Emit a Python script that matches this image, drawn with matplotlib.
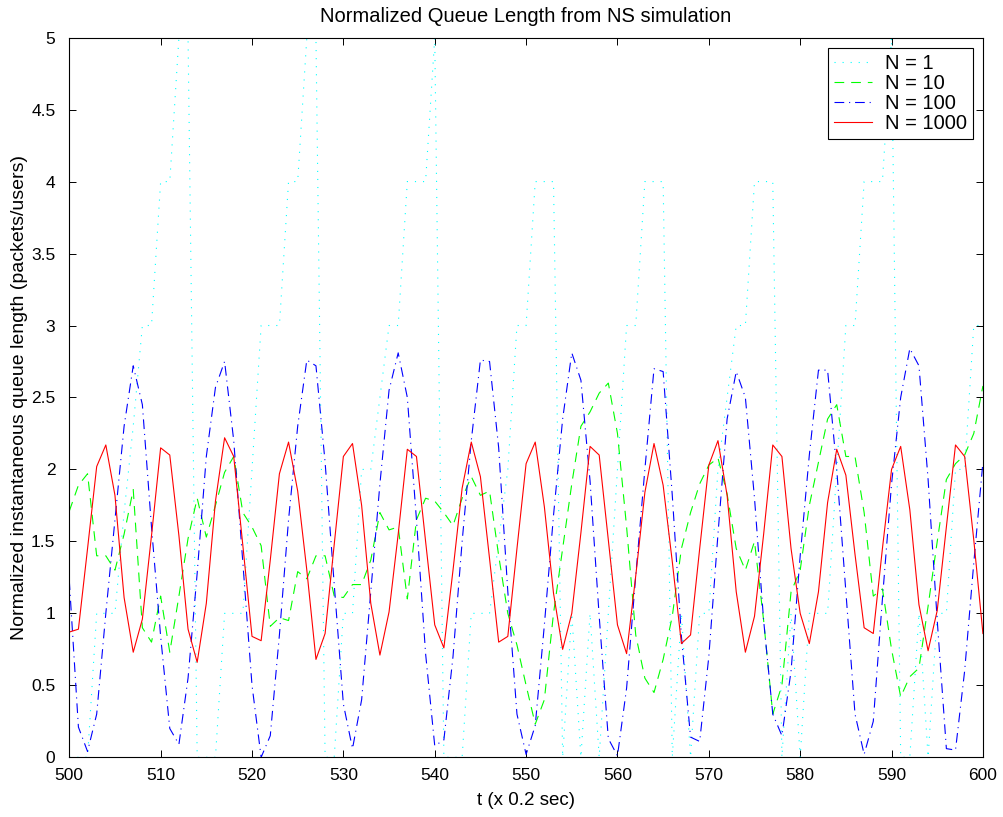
import numpy as np
import matplotlib
matplotlib.use("Agg")
import matplotlib.pyplot as plt
from matplotlib.ticker import FuncFormatter

plt.rcParams['font.family'] = ['Liberation Sans', 'DejaVu Sans']
plt.rcParams['lines.scale_dashes'] = False

t = np.arange(500, 601)

n1 = [0, 0, 0, 1, 1, 1, 1.7, 2.3, 3, 3,
      4, 4, 5, 5, 0, 0, 0, 1, 1, 1,
      2, 3, 3, 3, 4, 4, 5, 5, 0, 0,
      1, 1, 2, 2, 2.5, 3, 3, 4, 4, 4,
      5, 0, 0, 0, 1, 1, 1, 1.5, 2, 3,
      3, 4, 4, 4, 0, 1, 0, 1, 0, 1,
      2, 3, 3, 4, 4, 4, 0, 1, 0, 1,
      1, 2, 2.5, 3, 3, 4, 4, 4, 0, 1,
      0, 1, 1, 1, 2, 3, 3, 4, 4, 4,
      5, 0, 0, 1, 0, 1, 1, 2, 2, 3,
      3]

n10 = [1.71, 1.89, 1.97, 1.40, 1.40, 1.30, 1.55, 1.86, 0.90, 0.80,
       1.12, 0.73, 1.12, 1.52, 1.80, 1.53, 1.75, 1.98, 2.09, 1.70,
       1.60, 1.47, 0.91, 0.97, 0.95, 1.29, 1.24, 1.40, 1.40, 1.12,
       1.11, 1.20, 1.20, 1.37, 1.70, 1.58, 1.60, 1.10, 1.65, 1.80,
       1.78, 1.70, 1.61, 1.80, 1.95, 1.82, 1.85, 1.40, 1.00, 0.78,
       0.50, 0.23, 0.40, 1.00, 1.45, 1.90, 2.30, 2.40, 2.53, 2.60,
       2.25, 1.60, 0.85, 0.55, 0.45, 0.68, 0.98, 1.45, 1.70, 1.90,
       2.03, 2.08, 1.83, 1.45, 1.30, 1.50, 0.95, 0.30, 0.50, 1.15,
       1.30, 1.75, 2.05, 2.35, 2.45, 2.09, 2.09, 1.70, 1.12, 1.17,
       0.75, 0.42, 0.56, 0.62, 1.05, 1.50, 1.93, 2.04, 2.10, 2.25,
       2.58]

n100 = [1.23, 0.21, 0.04, 0.30, 1.00, 1.65, 2.30, 2.72, 2.45, 1.60,
        0.84, 0.20, 0.09, 0.55, 1.28, 2.09, 2.57, 2.75, 2.20, 1.35,
        0.50, 0.00, 0.15, 0.85, 1.65, 2.30, 2.76, 2.72, 2.05, 1.20,
        0.37, 0.06, 0.40, 1.15, 1.90, 2.55, 2.81, 2.50, 1.65, 0.72,
        0.08, 0.12, 0.70, 1.50, 2.20, 2.76, 2.75, 2.15, 1.15, 0.30,
        0.02, 0.22, 0.92, 1.68, 2.35, 2.81, 2.62, 1.92, 0.98, 0.13,
        0.01, 0.48, 1.26, 2.00, 2.70, 2.68, 1.82, 0.84, 0.14, 0.11,
        0.70, 1.55, 2.35, 2.68, 2.50, 1.80, 0.95, 0.30, 0.15, 0.60,
        1.40, 2.10, 2.69, 2.69, 2.00, 1.15, 0.30, 0.02, 0.25, 1.10,
        1.90, 2.50, 2.84, 2.72, 1.93, 0.95, 0.06, 0.05, 0.60, 1.35,
        2.05]

n1000 = [0.87, 0.89, 1.45, 2.02, 2.17, 1.82, 1.11, 0.73, 0.96, 1.54,
         2.15, 2.10, 1.54, 0.89, 0.66, 1.07, 1.78, 2.22, 2.09, 1.47,
         0.84, 0.81, 1.37, 1.97, 2.19, 1.85, 1.30, 0.68, 0.86, 1.48,
         2.09, 2.18, 1.75, 1.07, 0.71, 1.01, 1.55, 2.14, 2.09, 1.50,
         0.92, 0.76, 1.30, 1.87, 2.19, 1.95, 1.38, 0.80, 0.84, 1.45,
         2.04, 2.19, 1.74, 1.14, 0.75, 1.00, 1.56, 2.16, 2.10, 1.51,
         0.92, 0.72, 1.26, 1.84, 2.18, 1.89, 1.36, 0.79, 0.85, 1.45,
         2.03, 2.20, 1.82, 1.15, 0.73, 0.98, 1.55, 2.17, 2.09, 1.45,
         1.00, 0.79, 1.15, 1.77, 2.14, 1.96, 1.41, 0.90, 0.86, 1.45,
         2.00, 2.16, 1.72, 1.06, 0.74, 1.02, 1.60, 2.17, 2.09, 1.51,
         0.86]

labels = ['N = 1', 'N = 10', 'N = 100', 'N = 1000']
x_ticks = list(range(500, 601, 10))
y_ticks = [i * 0.5 for i in range(11)]

fig = plt.figure(figsize=(10.04, 8.17), dpi=100)
ax = fig.add_axes([0.069, 0.0731, 0.910, 0.8808])

lw = 0.8
ax.plot(t, n1, color=(0, 1, 1), lw=lw, dashes=(0.8, 5.0), label=labels[0])
ax.plot(t, n10, color=(0, 1, 0), lw=lw, dashes=(7.0, 5.0), label=labels[1])
ax.plot(t, n100, color=(0, 0, 1), lw=lw, dashes=(7.0, 3.5, 0.8, 3.5), label=labels[2])
ax.plot(t, n1000, color=(1, 0, 0), lw=lw, linestyle='-', label=labels[3])

ax.set_xlim(500, 600)
ax.set_ylim(0, 5)
ax.set_xticks(x_ticks)
ax.set_yticks(y_ticks)
ax.yaxis.set_major_formatter(FuncFormatter(lambda v, p: '%g' % v))
ax.tick_params(direction='in', length=5, width=0.7, labelsize=12.5,
               top=True, right=True)
ax.tick_params(axis='x', pad=7.5)
ax.tick_params(axis='y', pad=10)
for s in ax.spines.values():
    s.set_linewidth(0.8)

ax.set_title('Normalized Queue Length from NS simulation', fontsize=14.5, pad=11)
ax.set_xlabel('t (x 0.2 sec)', fontsize=13.5, labelpad=7)
ax.set_ylabel('Normalized instantaneous queue length (packets/users)', fontsize=14, labelpad=2)

leg = ax.legend(loc='upper right', bbox_to_anchor=(0.9887, 0.9853), borderaxespad=0,
                fontsize=14.5, fancybox=False, shadow=False, framealpha=1,
                edgecolor='black', handlelength=1.9, handletextpad=0.6,
                borderpad=0.3, labelspacing=0.05)
leg.get_frame().set_linewidth(0.8)

fig.savefig('out.png', dpi=100)
